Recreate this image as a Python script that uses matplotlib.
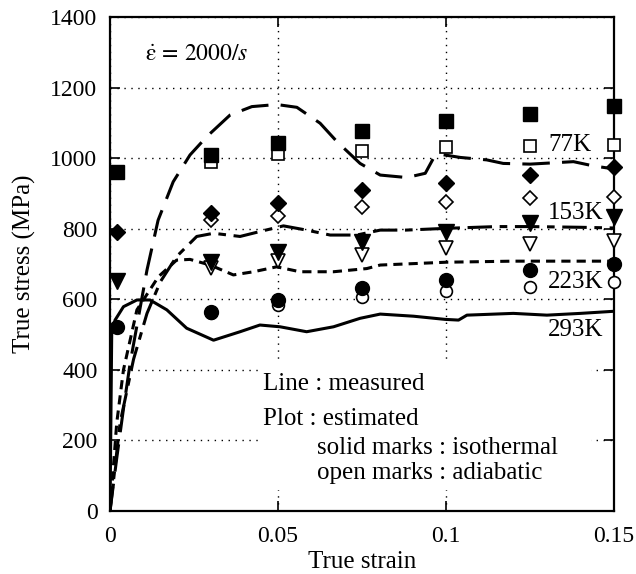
import matplotlib
matplotlib.use("Agg")
import matplotlib.pyplot as plt
from matplotlib.patches import Rectangle

plt.rcParams.update({
    "font.family": ["Liberation Serif", "DejaVu Serif"],
    "mathtext.fontset": "stix",
    "font.size": 16,
})

# estimated points: isothermal (solid) and adiabatic (open)
strain_iso = [0.002, 0.03, 0.05, 0.075, 0.1, 0.125, 0.15]
strain_adi = [0.03, 0.05, 0.075, 0.1, 0.125, 0.15]

sq_iso = [960, 1010, 1043, 1077, 1105, 1125, 1148]
sq_adi = [990, 1011, 1021, 1032, 1034, 1037]
dia_iso = [790, 845, 872, 910, 930, 952, 974]
dia_adi = [825, 835, 861, 876, 886, 891]
tri_iso = [652, 706, 735, 763, 791, 815, 832]
tri_adi = [688, 708, 725, 744, 756, 765]
cir_iso = [522, 565, 598, 631, 655, 683, 700]
cir_adi = [560, 584, 607, 624, 636, 648]

# measured curves
x_77 = [0.0, 0.002, 0.004, 0.006, 0.011, 0.0143, 0.0188, 0.0238, 0.0288, 0.0357,
        0.0422, 0.0496, 0.0556, 0.0625, 0.0675, 0.0744, 0.0804, 0.0883, 0.0938,
        0.0962, 0.0982, 0.1042, 0.1121, 0.117, 0.125, 0.1379, 0.1438, 0.1488, 0.15]
y_77 = [0, 150, 290, 420, 683, 824, 933, 1009, 1061, 1122,
        1146, 1152, 1144, 1099, 1047, 985, 952, 945, 957,
        999, 1011, 1002, 995, 985, 983, 990, 978, 971, 962]

x_153 = [0.0, 0.003, 0.007, 0.011, 0.015, 0.0198, 0.0258, 0.0308, 0.0387, 0.0446,
         0.0516, 0.0585, 0.0655, 0.0734, 0.0804, 0.088, 0.1, 0.115, 0.125, 0.14, 0.15]
y_153 = [0, 250, 430, 560, 650, 721, 778, 787, 778, 792,
         808, 796, 782, 782, 796, 796, 801, 806, 806, 804, 802]

x_223 = [0.0, 0.002, 0.004, 0.008, 0.0144, 0.0198, 0.0238, 0.0298, 0.0367, 0.0427,
         0.0496, 0.0565, 0.0665, 0.0764, 0.0804, 0.1, 0.12, 0.15]
y_223 = [0, 250, 400, 570, 664, 711, 713, 697, 669, 678,
         692, 678, 678, 687, 697, 705, 708, 708]

x_293 = [0.0, 0.0005, 0.0015, 0.004, 0.008, 0.0119, 0.0169, 0.0228, 0.0308, 0.0387,
         0.0446, 0.0506, 0.0585, 0.0665, 0.0744, 0.0804, 0.0903, 0.0997, 0.1037,
         0.1062, 0.12, 0.13, 0.14, 0.15]
y_293 = [0, 503, 541, 579, 598, 598, 570, 518, 484, 508,
         527, 522, 508, 522, 546, 558, 552, 543, 541,
         555, 560, 555, 560, 566]

fig = plt.figure(figsize=(6.36, 5.74), dpi=100)
ax = fig.add_axes([0.173, 0.1098, 0.7926, 0.8606])

ax.set_xlim(0, 0.15)
ax.set_ylim(0, 1400)
ax.set_xticks([0, 0.05, 0.1, 0.15])
ax.set_xticklabels(["0", "0.05", "0.1", "0.15"])
ax.set_yticks(range(0, 1401, 200))
ax.tick_params(direction="in", length=7, width=1.2, top=True, right=True,
               labelsize=17)
ax.tick_params(axis="x", pad=11)
ax.tick_params(axis="y", pad=9)
for s in ax.spines.values():
    s.set_linewidth(1.6)

ax.grid(True, color="black", linestyle=(0, (1, 4)), linewidth=1.0, zorder=0)
ax.set_axisbelow(True)

lw = 2.2
ax.plot(x_77, y_77, color="black", lw=lw, dashes=(9, 4), zorder=3)
ax.plot(x_153, y_153, color="black", lw=lw, dashes=(8, 2.5, 2.5, 2.5), zorder=3)
ax.plot(x_223, y_223, color="black", lw=lw, dashes=(3, 2), zorder=3)
ax.plot(x_293, y_293, color="black", lw=lw, zorder=3)

open_kw = dict(linestyle="none", markerfacecolor="white", markeredgecolor="black",
               markeredgewidth=1.2, clip_on=False, zorder=4)
solid_kw = dict(linestyle="none", color="black", clip_on=False, zorder=5)

ax.plot(strain_adi, sq_adi, marker="s", markersize=9, **open_kw)
ax.plot(strain_iso, sq_iso, marker="s", markersize=10.5, **solid_kw)
ax.plot(strain_adi, dia_adi, marker="D", markersize=7.5, **open_kw)
ax.plot(strain_iso, dia_iso, marker="D", markersize=8, **solid_kw)
ax.plot(strain_adi, tri_adi, marker="v", markersize=10, **open_kw)
ax.plot(strain_iso, tri_iso, marker="v", markersize=11, **solid_kw)
ax.plot(strain_adi, cir_adi, marker="o", markersize=8.5, **open_kw)
ax.plot(strain_iso, cir_iso, marker="o", markersize=10, **solid_kw)

# blank panel behind the legend text
ax.add_patch(Rectangle((0.30, 0.043), 0.655, 0.257, transform=ax.transAxes,
                       facecolor="white", edgecolor="none", zorder=1))

ax.text(0.07, 0.923, r"$\dot{\mathrm{ε}}\,=\,2000/s$", transform=ax.transAxes,
        fontsize=17, va="center", ha="left")

for label, py in [("77K", 145), ("153K", 213), ("223K", 282), ("293K", 330)]:
    ax.text(0.869, (511 - py) / 494, label, transform=ax.transAxes,
            fontsize=18, va="center", ha="left", zorder=6)

legend_lines = [
    ("Line : measured", 0.303, 384),
    ("Plot : estimated", 0.303, 419),
    ("solid marks : isothermal", 0.41, 448),
    ("open marks : adiabatic", 0.41, 473),
]
for txt, xa, py in legend_lines:
    ax.text(xa, (511 - py) / 494, txt, transform=ax.transAxes,
            fontsize=18, va="center", ha="left", zorder=6)

ax.set_xlabel("True strain", fontsize=18, labelpad=3)
ax.set_ylabel("True stress (MPa)", fontsize=18, labelpad=10)

fig.savefig("out.png", dpi=100, facecolor="white")
